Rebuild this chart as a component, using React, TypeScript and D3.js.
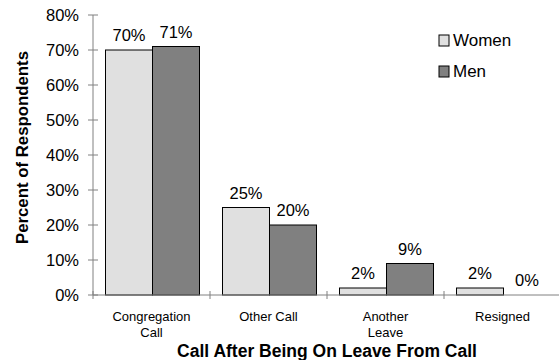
import React from "react";
import * as d3 from "d3";

// Survey results: status after a leave from call, by gender
const categories: string[][] = [
  ["Congregation", "Call"],
  ["Other Call"],
  ["Another", "Leave"],
  ["Resigned"],
];
const seriesNames = ["Women", "Men"];
const women = [70, 25, 2, 2];
const men = [71, 20, 9, 0];
const yTicks = [0, 10, 20, 30, 40, 50, 60, 70, 80];

const colors: Record<string, string> = { Women: "#e0e0e0", Men: "#808080" };
const FONT = "Arial, 'Liberation Sans', Helvetica, sans-serif";

export default function App() {
  const width = 559;
  const height = 360;
  const x0 = 93;
  const x1 = 561;
  const yTop = 15;
  const yBottom = 295;

  const keys = categories.map((c) => c.join(" "));
  const xBand = d3.scaleBand<string>().domain(keys).range([x0, x1]).padding(0);
  const xInner = d3
    .scaleBand<string>()
    .domain(seriesNames)
    .range([12.5, xBand.bandwidth() - 10.5])
    .padding(0);
  const y = d3.scaleLinear().domain([0, 80]).range([yBottom, yTop]);

  const values: Record<string, number[]> = { Women: women, Men: men };
  const axisColor = "#808080";

  return (
    <svg
      width={width}
      height={height}
      style={{ position: "absolute", left: 0, top: 0, background: "#fff" }}
      fontFamily={FONT}
    >
      {/* bars */}
      {keys.map((k, i) =>
        seriesNames.map((s) => {
          const v = values[s][i];
          const bx = (xBand(k) as number) + (xInner(s) as number);
          const by = y(v);
          return (
            <g key={k + s}>
              {v > 0 && (
                <rect
                  x={bx}
                  y={by}
                  width={xInner.bandwidth()}
                  height={yBottom - by}
                  fill={colors[s]}
                  stroke="#000"
                  strokeWidth={1}
                />
              )}
              <text
                x={bx + xInner.bandwidth() / 2}
                y={by - 9}
                textAnchor="middle"
                fontSize={16.5}
                fill="#000"
              >
                {v}%
              </text>
            </g>
          );
        })
      )}

      {/* y axis */}
      <line x1={x0} x2={x0} y1={yTop} y2={yBottom} stroke={axisColor} />
      {yTicks.map((t) => (
        <g key={t}>
          <line x1={x0 - 5} x2={x0 + 5} y1={y(t)} y2={y(t)} stroke={axisColor} />
          <text
            x={79}
            y={y(t)}
            dy="0.35em"
            textAnchor="end"
            fontSize={16.5}
            fill="#000"
          >
            {t}%
          </text>
        </g>
      ))}

      {/* x axis */}
      <line x1={x0} x2={x1} y1={yBottom} y2={yBottom} stroke={axisColor} />
      {keys.map((k) => (
        <line
          key={"t" + k}
          x1={xBand(k) as number}
          x2={xBand(k) as number}
          y1={yBottom - 4}
          y2={yBottom + 4}
          stroke={axisColor}
        />
      ))}
      {categories.map((lines, i) => (
        <text
          key={"c" + i}
          x={(xBand(keys[i]) as number) + xBand.bandwidth() / 2}
          y={321}
          textAnchor="middle"
          fontSize={13}
          fill="#000"
        >
          {lines.map((ln, j) => (
            <tspan key={j} x={(xBand(keys[i]) as number) + xBand.bandwidth() / 2} dy={j === 0 ? 0 : 15.5}>
              {ln}
            </tspan>
          ))}
        </text>
      ))}

      {/* axis titles */}
      <text
        x={(x0 + x1) / 2}
        y={357}
        textAnchor="middle"
        fontSize={17.5}
        fontWeight="bold"
        fill="#000"
      >
        Call After Being On Leave From Call
      </text>
      <text
        transform={`translate(28, ${(45 + 250) / 2}) rotate(-90)`}
        textAnchor="middle"
        fontSize={16.8}
        fontWeight="bold"
        fill="#000"
      >
        Percent of Respondents
      </text>

      {/* legend */}
      {seriesNames.map((s, i) => (
        <g key={"l" + s} transform={`translate(439, ${35 + i * 31})`}>
          <rect x={0} y={0} width={10} height={11} fill={colors[s]} stroke="#000" />
          <text x={14} y={5.5} dy="0.35em" fontSize={17} fill="#000">
            {s}
          </text>
        </g>
      ))}
    </svg>
  );
}
